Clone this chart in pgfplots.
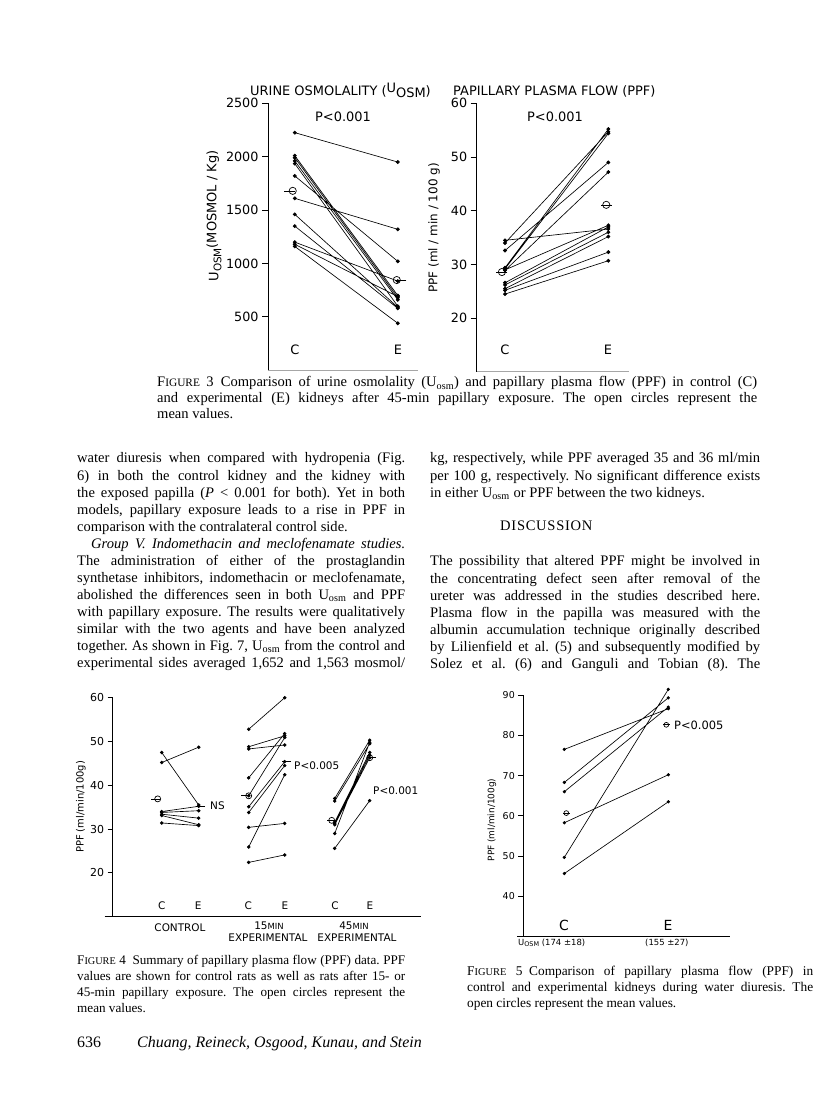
\documentclass[border=0pt]{standalone}
\usepackage{fontspec}
\setmainfont{Liberation Serif}
\usepackage{pgfplots}
\pgfplotsset{compat=1.18}
\newfontfamily\chartfont{DejaVu Sans}
\newcommand\figsc[1]{F{\fontsize{0.78\dimexpr\fontdimen6\font\relax}{0}\selectfont IGURE}~#1}
\pgfplotsset{
 panel/.style={scale only axis, axis lines=left,
   axis line style={-, line width=0.8bp, black},
   tick align=outside, major tick length=6bp, xtick=\empty, clip=false,
   tick style={line width=0.8bp, black},
   ticklabel style={font=\chartfont\fontsize{12.8}{12.8}\selectfont},
   /pgf/number format/assume math mode=true, /pgf/number format/1000 sep={}},
 pairs/.style={black, line width=0.65bp, mark=*, mark size=1.6bp, unbounded coords=jump, mark options={solid}},
 meanc/.style={only marks, mark=o, mark size=3.6bp, mark options={fill=white, line width=0.7bp}},
 meant/.style={only marks, mark=-, mark size=5.5bp, mark options={line width=0.7bp}},
}
\begin{document}
\frenchspacing
\begin{tikzpicture}
\path[use as bounding box, fill=white] (0,0) rectangle (816bp,1117bp);

% ---------------- Figure 3 left
\begin{axis}[panel, at={(268bp,746.7bp)}, anchor=south west,
  width=150.4bp, height=267bp, xmin=0.74, xmax=2.2, ymin=0, ymax=2500,
  ytick={500,1000,1500,2000,2500}, x axis line style={gray!70, line width=1bp}]
\addplot[pairs] coordinates {
(1,2225)(2,1950)(1,nan)
(1,2010)(2,700)(1,nan)
(1,1990)(2,680)(1,nan)
(1,1960)(2,660)(1,nan)
(1,1935)(2,600)(1,nan)
(1,1820)(2,1020)(1,nan)
(1,1610)(2,1320)(1,nan)
(1,1460)(2,590)(1,nan)
(1,1350)(2,580)(1,nan)
(1,1200)(2,835)(1,nan)
(1,1180)(2,690)(1,nan)
(1,1160)(2,440)};
\addplot[meant] coordinates {(0.95,1680)(2.03,845)};
\addplot[meanc] coordinates {(0.98,1680)(1.99,845)};
\end{axis}

% ---------------- Figure 3 right
\begin{axis}[panel, at={(476.7bp,745bp)}, anchor=south west,
  width=152.3bp, height=268.7bp, xmin=0.726, xmax=2.2, ymin=10, ymax=60,
  ytick={20,30,40,50,60}, x axis line style={gray!70, line width=1bp}]
\addplot[pairs] coordinates {
(1,34.5)(2,36.6)(1,nan)
(1,34.0)(2,54.7)(1,nan)
(1,32.6)(2,49.0)(1,nan)
(1,29.4)(2,55.2)(1,nan)
(1,29.2)(2,54.4)(1,nan)
(1,29.0)(2,37.3)(1,nan)
(1,28.9)(2,47.2)(1,nan)
(1,26.6)(2,37.0)(1,nan)
(1,26.2)(2,36.0)(1,nan)
(1,25.5)(2,35.2)(1,nan)
(1,25.2)(2,32.3)(1,nan)
(1,24.5)(2,30.7)};
\addplot[meant] coordinates {(0.97,28.6)(1.98,41.1)};
\addplot[meanc] coordinates {(0.97,28.6)(1.98,41.1)};
\end{axis}

% ---------------- Figure 4
\begin{axis}[panel, at={(112.7bp,200.3bp)}, anchor=south west,
  width=308bp, height=219bp, xmin=0, xmax=308, ymin=10, ymax=60,
  ytick={20,30,40,50,60}, major tick length=5bp,
  ticklabel style={font=\chartfont\fontsize{11}{11}\selectfont},
  x axis line style={shorten <=-8bp}]
\addplot[pairs, mark size=1.4bp] coordinates {
(49,47.5)(86,35.5)(49,nan)
(49,45.2)(86,48.7)(49,nan)
(49,34.0)(86,35.2)(49,nan)
(49,33.8)(86,34.2)(49,nan)
(49,33.4)(86,32.5)(49,nan)
(49,33.1)(86,31.0)(49,nan)
(49,31.4)(86,30.8)(49,nan)
(136,52.8)(172,60.0)(136,nan)
(136,48.8)(172,51.3)(136,nan)
(136,48.3)(172,49.2)(136,nan)
(136,41.7)(172,51.8)(136,nan)
(136,37.6)(172,50.9)(136,nan)
(136,35.1)(172,45.4)(136,nan)
(136,33.8)(172,44.5)(136,nan)
(136,30.4)(172,31.3)(136,nan)
(136,25.9)(172,42.4)(136,nan)
(136,22.4)(172,24.1)(136,nan)
(222,37.0)(257,50.3)(222,nan)
(222,36.4)(257,49.5)(222,nan)
(222,31.6)(257,47.5)(222,nan)
(222,31.3)(257,46.9)(222,nan)
(222,31.0)(257,46.3)(222,nan)
(222,29.0)(257,49.8)(222,nan)
(222,25.6)(257,36.5)};
\addplot[meant, mark size=4.5bp] coordinates {(43,36.9)(88,35.3)(133,37.6)(174,45.4)(219,32.0)(259,46.3)};
\addplot[meanc, mark size=3bp] coordinates {(45,36.9)(136,37.6)(219,32.0)(257,46.3)};
\end{axis}

% ---------------- Figure 5
\begin{axis}[panel, at={(523.3bp,180.2bp)}, anchor=south west,
  width=207bp, height=241.8bp, xmin=0, xmax=207, ymin=30, ymax=90,
  ytick={40,50,60,70,80,90}, major tick length=5bp,
  ticklabel style={font=\chartfont\fontsize{9.5}{9.5}\selectfont},
  x axis line style={shorten <=-6bp}]
\addplot[pairs, mark size=1.3bp] coordinates {
(41,76.5)(145,86.6)(41,nan)
(41,68.3)(145,89.3)(41,nan)
(41,66.0)(145,87.0)(41,nan)
(41,58.3)(145,70.2)(41,nan)
(41,49.7)(145,91.4)(41,nan)
(41,45.7)(145,63.5)};
\addplot[meant, mark size=3.5bp] coordinates {(43,60.7)(143,82.6)};
\addplot[meanc, mark size=2.4bp] coordinates {(43,60.7)(143,82.6)};
\end{axis}

\begin{scope}[shift={(0,1117bp)}, x=1bp, y=-1bp]
% chart lettering, figure 3
\begin{scope}[every node/.style={inner sep=0, font=\chartfont\fontsize{13}{13}\selectfont}]
\node[anchor=base west] at (250,96) {URINE OSMOLALITY (\raisebox{3bp}{U}\raisebox{-2bp}{OSM})};
\node[anchor=base west] at (453,96) {PAPILLARY PLASMA FLOW (PPF)};
\node at (343,117) {P<0.001};
\node at (555,117) {P<0.001};
\node at (295,350) {C};
\node at (398,350) {E};
\node at (505,350) {C};
\node at (608,350) {E};
\node[rotate=90] at (214,216) {U\raisebox{-3bp}{\fontsize{10.5}{10.5}\selectfont OSM}\raisebox{2bp}{(MOSMOL / Kg)}};
\node[rotate=90, font=\chartfont\fontsize{12}{12}\selectfont] at (434,228) {PPF (ml / min / 100 g)};
\end{scope}
% chart lettering, figure 4
\begin{scope}[every node/.style={inner sep=0, font=\chartfont\fontsize{10.5}{10.5}\selectfont}]
\node at (161.7,906) {C};
\node at (198.3,906) {E};
\node at (248.3,906) {C};
\node at (285,906) {E};
\node at (335,906) {C};
\node at (370,906) {E};
\node at (180,928) {CONTROL};
\node at (269,926) {15{\fontsize{8.5}{8.5}\selectfont MIN}};
\node at (268,938) {EXPERIMENTAL};
\node at (354,926) {45{\fontsize{8.5}{8.5}\selectfont MIN}};
\node at (357,938) {EXPERIMENTAL};
\node[anchor=west] at (210,806) {NS};
\node[anchor=west] at (294,766) {P<0.005};
\node[anchor=west] at (373,791) {P<0.001};
\node[rotate=90, font=\chartfont\fontsize{10}{10}\selectfont] at (81,807) {PPF (ml/min/100g)};
\end{scope}
% chart lettering, figure 5
\begin{scope}[every node/.style={inner sep=0, font=\chartfont\fontsize{11.5}{11.5}\selectfont}]
\node[font=\chartfont\fontsize{14}{14}\selectfont] at (564,925) {C};
\node[font=\chartfont\fontsize{14}{14}\selectfont] at (668,925) {E};
\node[anchor=west] at (674,725) {P<0.005};
\node[anchor=west, font=\chartfont\fontsize{8.5}{8.5}\selectfont] at (518,943) {U\raisebox{-1.5bp}{\fontsize{6.5}{6.5}\selectfont OSM} (174 ±18)};
\node[anchor=west, font=\chartfont\fontsize{8.5}{8.5}\selectfont] at (645,943) {(155 ±27)};
\node[rotate=90, font=\chartfont\fontsize{9}{9}\selectfont] at (492,820) {PPF (ml/min/100g)};
\end{scope}

% ---------------- text
\begin{scope}[every node/.style={inner sep=0, anchor=base west}]
\node at (157,387) {\parbox[t]{600bp}{\fontsize{14.6}{16}\selectfont\noindent
\figsc{3}\enspace Comparison of urine osmolality (U\textsubscript{osm}) and papillary plasma flow (PPF) in control (C)\linebreak
and experimental (E) kidneys after 45-min papillary exposure. The open circles represent the\linebreak
mean values.}};

\node at (77,463) {\parbox[t]{328bp}{\fontsize{14.6}{17.1}\selectfont\noindent
water diuresis when compared with hydropenia (Fig.\linebreak
6) in both the control kidney and the kidney with\linebreak
the exposed papilla (\textit{P} < 0.001 for both). Yet in both\linebreak
models, papillary exposure leads to a rise in PPF in\linebreak
comparison with the contralateral control side.\par
{\parfillskip=0pt\noindent\hspace*{14bp}\textit{Group V. Indomethacin and meclofenamate studies.}\linebreak
The administration of either of the prostaglandin\linebreak
synthetase inhibitors, indomethacin or meclofenamate,\linebreak
abolished the differences seen in both U\textsubscript{osm} and PPF\linebreak
with papillary exposure. The results were qualitatively\linebreak
similar with the two agents and have been analyzed\linebreak
together. As shown in Fig. 7, U\textsubscript{osm} from the control and\linebreak
experimental sides averaged 1,652 and 1,563 mosmol/\par}}};

\node at (430,463) {\parbox[t]{330bp}{\fontsize{14.6}{17.1}\selectfont\noindent
kg, respectively, while PPF averaged 35 and 36 ml/min\linebreak
per 100 g, respectively. No significant difference exists\linebreak
in either U\textsubscript{osm} or PPF between the two kidneys.}};
\node at (500,531) {\fontsize{14.6}{17}\selectfont\addfontfeature{LetterSpace=5}DISCUSSION};
\node at (430,566) {\parbox[t]{330bp}{\fontsize{14.6}{17.1}\selectfont\noindent\parfillskip=0pt
The possibility that altered PPF might be involved in\linebreak
the concentrating defect seen after removal of the\linebreak
ureter was addressed in the studies described here.\linebreak
Plasma flow in the papilla was measured with the\linebreak
albumin accumulation technique originally described\linebreak
by Lilienfield et al. (5) and subsequently modified by\linebreak
Solez et al. (6) and Ganguli and Tobian (8). The\par}};

\node at (77,965) {\parbox[t]{328bp}{\fontsize{13.2}{15.8}\selectfont\noindent
\figsc{4}\enspace Summary of papillary plasma flow (PPF) data. PPF\linebreak
values are shown for control rats as well as rats after 15- or\linebreak
45-min papillary exposure. The open circles represent the\linebreak
mean values.}};
\node at (467,976) {\parbox[t]{346bp}{\fontsize{13.4}{15.8}\selectfont\noindent
\figsc{5}\enspace Comparison of papillary plasma flow (PPF) in\linebreak
control and experimental kidneys during water diuresis. The\linebreak
open circles represent the mean values.}};

\node at (77,1048) {\fontsize{16}{16}\selectfont 636};
\node at (137,1048) {\fontsize{16}{16}\selectfont\itshape Chuang, Reineck, Osgood, Kunau, and Stein};
\end{scope}
\end{scope}
\end{tikzpicture}
\end{document}
